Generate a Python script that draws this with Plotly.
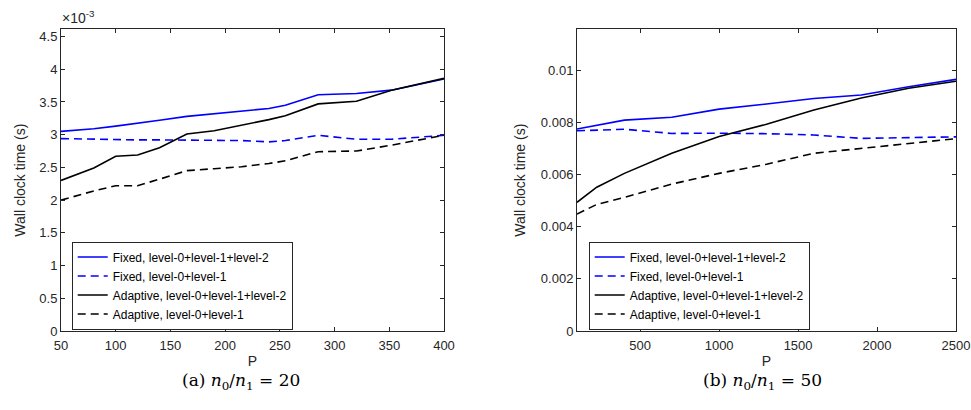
import plotly.graph_objects as go

# ---------------- data ----------------
# (a) n0/n1 = 20
P_a = [50, 80, 100, 120, 140, 165, 190, 215, 240, 255, 285, 320, 352, 400]
fixed_l012_a = [3.05e-3, 3.09e-3, 3.13e-3, 3.17e-3, 3.22e-3, 3.28e-3, 3.32e-3, 3.36e-3, 3.40e-3, 3.45e-3, 3.61e-3, 3.63e-3, 3.68e-3, 3.85e-3]
fixed_l01_a = [2.94e-3, 2.93e-3, 2.92e-3, 2.92e-3, 2.92e-3, 2.92e-3, 2.92e-3, 2.91e-3, 2.89e-3, 2.91e-3, 2.99e-3, 2.93e-3, 2.93e-3, 2.99e-3]
adapt_l012_a = [2.30e-3, 2.49e-3, 2.67e-3, 2.69e-3, 2.80e-3, 3.01e-3, 3.06e-3, 3.14e-3, 3.23e-3, 3.29e-3, 3.47e-3, 3.51e-3, 3.68e-3, 3.86e-3]
adapt_l01_a = [2.00e-3, 2.14e-3, 2.22e-3, 2.22e-3, 2.32e-3, 2.45e-3, 2.48e-3, 2.51e-3, 2.56e-3, 2.60e-3, 2.74e-3, 2.75e-3, 2.84e-3, 2.99e-3]

# (b) n0/n1 = 50
P_b = [100, 225, 400, 700, 1000, 1300, 1600, 1900, 2200, 2500]
fixed_l012_b = [7.74e-3, 7.88e-3, 8.08e-3, 8.19e-3, 8.50e-3, 8.70e-3, 8.91e-3, 9.04e-3, 9.36e-3, 9.64e-3]
fixed_l01_b = [7.67e-3, 7.70e-3, 7.73e-3, 7.57e-3, 7.58e-3, 7.56e-3, 7.51e-3, 7.38e-3, 7.42e-3, 7.44e-3]
adapt_l012_b = [4.93e-3, 5.51e-3, 6.04e-3, 6.81e-3, 7.45e-3, 7.92e-3, 8.47e-3, 8.93e-3, 9.30e-3, 9.57e-3]
adapt_l01_b = [4.48e-3, 4.85e-3, 5.12e-3, 5.63e-3, 6.04e-3, 6.39e-3, 6.81e-3, 7.00e-3, 7.19e-3, 7.37e-3]

series_names = ["Fixed, level-0+level-1+level-2", "Fixed, level-0+level-1",
                "Adaptive, level-0+level-1+level-2", "Adaptive, level-0+level-1"]

xticks_a = [50, 100, 150, 200, 250, 300, 350, 400]
yticks_a = [0, 0.5e-3, 1e-3, 1.5e-3, 2e-3, 2.5e-3, 3e-3, 3.5e-3, 4e-3, 4.5e-3]
yticktext_a = ["0", "0.5", "1", "1.5", "2", "2.5", "3", "3.5", "4", "4.5"]
xticks_b = [500, 1000, 1500, 2000, 2500]
yticks_b = [0, 0.002, 0.004, 0.006, 0.008, 0.01]
yticktext_b = ["0", "0.002", "0.004", "0.006", "0.008", "0.01"]

# ---------------- figure ----------------
W, H = 971, 410
FONT = "Liberation Sans"
AX = "#262626"
BLUE = "#0000ff"
BLACK = "#000000"
DASH = "8px,5px"
LW = 1.6

styles = [(BLUE, "solid"), (BLUE, DASH), (BLACK, "solid"), (BLACK, DASH)]

fig = go.Figure()

data_a = [fixed_l012_a, fixed_l01_a, adapt_l012_a, adapt_l01_a]
data_b = [fixed_l012_b, fixed_l01_b, adapt_l012_b, adapt_l01_b]

for name, ys, (c, d) in zip(series_names, data_a, styles):
    fig.add_trace(go.Scatter(x=P_a, y=ys, mode="lines", name=name,
                             line=dict(color=c, dash=d, width=LW),
                             xaxis="x", yaxis="y", legend="legend"))
for name, ys, (c, d) in zip(series_names, data_b, styles):
    fig.add_trace(go.Scatter(x=P_b, y=ys, mode="lines", name=name,
                             line=dict(color=c, dash=d, width=LW),
                             xaxis="x2", yaxis="y2", legend="legend2"))

def px_x(p):
    return p / W

def px_y(p):
    return 1 - p / H

y_dom = [px_y(331), px_y(29.3)]

common_axis = dict(showline=True, linecolor=AX, linewidth=1, mirror="ticks",
                   ticks="inside", ticklen=4, tickcolor=AX, tickwidth=1,
                   showgrid=False, zeroline=False, automargin=False,
                   tickfont=dict(family=FONT, size=13, color=AX))

title_font = dict(family=FONT, size=14, color=AX)

legend_common = dict(bgcolor="white", bordercolor=AX, borderwidth=1,
                     font=dict(family=FONT, size=12, color="#000000"),
                     xanchor="left", yanchor="middle", tracegroupgap=0,
                     itemwidth=30)

fig.update_layout(
    width=W, height=H,
    margin=dict(l=0, r=0, t=0, b=0, autoexpand=False),
    paper_bgcolor="white", plot_bgcolor="white",
    xaxis=dict(domain=[px_x(61), px_x(444)], range=[50, 400], anchor="y",
               tickvals=xticks_a, ticklabelstandoff=2,
               title=dict(text="P", font=title_font, standoff=4),
               **common_axis),
    yaxis=dict(domain=y_dom, range=[0, 4.61e-3], anchor="x",
               tickvals=yticks_a, ticktext=yticktext_a,
               title=dict(text="Wall clock time (s)", font=title_font, standoff=10),
               **common_axis),
    xaxis2=dict(domain=[px_x(577), px_x(956)], range=[100, 2500], anchor="y2",
                tickvals=xticks_b, ticklabelstandoff=2,
                title=dict(text="P", font=title_font, standoff=4),
                **common_axis),
    yaxis2=dict(domain=y_dom, range=[0, 0.01156], anchor="x2",
                tickvals=yticks_b, ticktext=yticktext_b,
                title=dict(text="Wall clock time (s)", font=title_font, standoff=11),
                **common_axis),
    legend=dict(x=px_x(71.7), y=px_y(285.5), **legend_common),
    legend2=dict(x=px_x(588.7), y=px_y(285.5), **legend_common),
    showlegend=True,
)

fig.add_annotation(text="×10<sup>-3</sup>", xref="paper", yref="paper",
                   x=px_x(60), y=px_y(28), xanchor="left", yanchor="bottom",
                   showarrow=False, font=dict(family=FONT, size=14, color=AX))

cap_font = dict(family="DejaVu Serif", size=17, color="#000000")
fig.add_annotation(text="(a) <i>n</i><sub>0</sub>/<i>n</i><sub>1</sub> = 20", xref="paper", yref="paper",
                   x=px_x(241), y=px_y(381), xanchor="center", yanchor="middle",
                   showarrow=False, font=cap_font)
fig.add_annotation(text="(b) <i>n</i><sub>0</sub>/<i>n</i><sub>1</sub> = 50", xref="paper", yref="paper",
                   x=px_x(762), y=px_y(381), xanchor="center", yanchor="middle",
                   showarrow=False, font=cap_font)

fig.write_html("out.html", config={"displayModeBar": False},
               post_script="document.body.style.margin='0';document.body.style.overflow='hidden';")
